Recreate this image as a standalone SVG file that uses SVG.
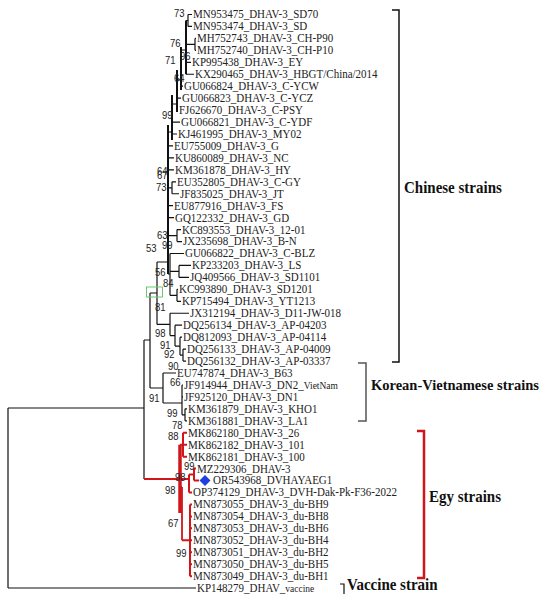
<svg xmlns="http://www.w3.org/2000/svg" width="540" height="594" viewBox="0 0 540 594">
<style>
.lb{font:11px "Liberation Serif","Times New Roman",serif;fill:#222;transform-box:fill-box;transform-origin:center;transform:scaleY(1.06)}
.sm{font-size:9.5px}
.bs{font:9.5px "Liberation Sans",Arial,sans-serif;fill:#222;transform-box:fill-box;transform-origin:center;transform:scaleY(1.15)}
.cl{font:bold 15px "Liberation Serif","Times New Roman",serif;fill:#111;transform-box:fill-box;transform-origin:center;transform:scaleY(1.06)}
.k{fill:none;stroke:#111;stroke-width:1.2}
.kt{fill:none;stroke:#111;stroke-width:2}
.r{fill:none;stroke:#d0161b;stroke-width:2}
.rt{fill:none;stroke:#d0161b;stroke-width:3.5}
</style>
<rect width="540" height="594" fill="#fff"/>
<g id="connectors">
<path class="k" d="M8 408V588M8 408H144M8 588H196M144 340V479M144 340H150M150 293V388M150 293H157M150 388H163
M163 373V403M163 373H176M163 403H182M182 385V414.8M182 385H183M182 396.9H183M182 414.8H185M185 408.85V420.8M185 408.85H187M185 420.8H187
M157 262V324.4M157 262H168M157 324.4H170M170 313.25V335.6M170 313.25H189M170 335.6H175M175 325.2V346.1M175 325.2H182M175 346.1H180
M180 337.15V355.1M180 337.15H182M180 355.1H183M183 349.1V361.05M183 349.1H186M183 361.05H186
M168 274H170M170 253.5V295.3M170 253.5H184M170 271.4H179M170 295.3H177M179 265.45V277.4M179 265.45H191M179 277.4H189
M177 289.35V301.3M177 289.35H178M177 301.3H181
M168 235.6H177M177 229.6V241.55M177 229.6H181M177 241.55H182M168 217.65H174M168 205.7H173
M168 187.8H172M172 181.8V193.75M172 181.8H176M172 193.75H179M168 169.85H174M168 157.9H174M168 145.95H173
M168 132H172M172 134H177M172 122.05H180M172 104H177M177 110.1H178M177 98.15H181M177 80H181M181 86.2H183M181 50H186
M186 74.25H194M186 62.3H191M186 44.4H195M195 38.4V50.35M195 38.4H196M195 50.35H196M186 20.5H188M188 14.5V26.45M188 14.5H192M188 26.45H192"/>
<path class="kt" d="M168 125V274M172 95V140M177 70V112M181 47V90M186 20.5V74.25"/>
<path class="r" d="M144 479H189M180 444.7H183M183 432.75V456.65M183 432.75H187M183 444.7H187M183 456.65H187
M189 474.6V492.5M189 474.6H194M189 492.5H192M194 468.6V480.55M194 468.6H196M194 480.55H199
M180 487H182M182 540.3H190M190 504.45V576.15M190 504.45H192M190 516.4H192M190 528.35H192M190 540.3H192M190 552.25H192M190 564.2H192M190 576.15H192"/>
<path class="rt" d="M180 444.7V513"/>
<path class="r" d="M182 487V540.3" style="stroke-width:1.8"/>
<rect x="146.5" y="287" width="16" height="10" fill="none" stroke="#6cc96c" stroke-width="1"/>
</g>
<g id="leaves">
<g id="n1"><text class="lb" x="193" y="18.2">MN953475_DHAV-3_SD70</text></g>
<g id="n2"><text class="lb" x="193" y="30.15">MN953474_DHAV-3_SD</text></g>
<g id="n3"><text class="lb" x="197" y="42.1">MH752743_DHAV-3_CH-P90</text></g>
<g id="n4"><text class="lb" x="197" y="54.05">MH752740_DHAV-3_CH-P10</text></g>
<g id="n5"><text class="lb" x="192" y="66">KP995438_DHAV-3_EY</text></g>
<g id="n6"><text class="lb" x="195" y="77.95">KX290465_DHAV-3_HBGT/China/2014</text></g>
<g id="n7"><text class="lb" x="184" y="89.9">GU066824_DHAV-3_C-YCW</text></g>
<g id="n8"><text class="lb" x="182" y="101.85">GU066823_DHAV-3_C-YCZ</text></g>
<g id="n9"><text class="lb" x="179" y="113.8">FJ626670_DHAV-3_C-PSY</text></g>
<g id="n10"><text class="lb" x="181" y="125.75">GU066821_DHAV-3_C-YDF</text></g>
<g id="n11"><text class="lb" x="178" y="137.7">KJ461995_DHAV-3_MY02</text></g>
<g id="n12"><text class="lb" x="174" y="149.65">EU755009_DHAV-3_G</text></g>
<g id="n13"><text class="lb" x="175" y="161.6">KU860089_DHAV-3_NC</text></g>
<g id="n14"><text class="lb" x="175" y="173.55">KM361878_DHAV-3_HY</text></g>
<g id="n15"><text class="lb" x="177" y="185.5">EU352805_DHAV-3_C-GY</text></g>
<g id="n16"><text class="lb" x="180" y="197.45">JF835025_DHAV-3_JT</text></g>
<g id="n17"><text class="lb" x="174" y="209.4">EU877916_DHAV-3_FS</text></g>
<g id="n18"><text class="lb" x="175" y="221.35">GQ122332_DHAV-3_GD</text></g>
<g id="n19"><text class="lb" x="182" y="233.3">KC893553_DHAV-3_12-01</text></g>
<g id="n20"><text class="lb" x="183" y="245.25">JX235698_DHAV-3_B-N</text></g>
<g id="n21"><text class="lb" x="185" y="257.2">GU066822_DHAV-3_C-BLZ</text></g>
<g id="n22"><text class="lb" x="192" y="269.15">KP233203_DHAV-3_LS</text></g>
<g id="n23"><text class="lb" x="190" y="281.1">JQ409566_DHAV-3_SD1101</text></g>
<g id="n24"><text class="lb" x="179" y="293.05">KC993890_DHAV-3_SD1201</text></g>
<g id="n25"><text class="lb" x="182" y="305">KP715494_DHAV-3_YT1213</text></g>
<g id="n26"><text class="lb" x="190" y="316.95">JX312194_DHAV-3_D11-JW-018</text></g>
<g id="n27"><text class="lb" x="183" y="328.9">DQ256134_DHAV-3_AP-04203</text></g>
<g id="n28"><text class="lb" x="183" y="340.85">DQ812093_DHAV-3_AP-04114</text></g>
<g id="n29"><text class="lb" x="187" y="352.8">DQ256133_DHAV-3_AP-04009</text></g>
<g id="n30"><text class="lb" x="187" y="364.75">DQ256132_DHAV-3_AP-03337</text></g>
<g id="n31"><text class="lb" x="177" y="376.7">EU747874_DHAV-3_B63</text></g>
<g id="n32"><text class="lb" x="184" y="388.65">JF914944_DHAV-3_DN2_<tspan class="sm">VietNam</tspan></text></g>
<g id="n33"><text class="lb" x="184" y="400.6">JF925120_DHAV-3_DN1</text></g>
<g id="n34"><text class="lb" x="188" y="412.55">KM361879_DHAV-3_KHO1</text></g>
<g id="n35"><text class="lb" x="188" y="424.5">KM361881_DHAV-3_LA1</text></g>
<g id="n36"><text class="lb" x="188" y="436.45">MK862180_DHAV-3_26</text></g>
<g id="n37"><text class="lb" x="188" y="448.4">MK862182_DHAV-3_101</text></g>
<g id="n38"><text class="lb" x="188" y="460.35">MK862181_DHAV-3_100</text></g>
<g id="n39"><text class="lb" x="197" y="472.3">MZ229306_DHAV-3</text></g>
<g id="n40"><polygon points="205,475 210.5,480.5 205,486 199.5,480.5" fill="#1f3fe0"/><text class="lb" x="213" y="484.25">OR543968_DVHAYAEG1</text></g>
<g id="n41"><text class="lb" x="193" y="496.2">OP374129_DHAV-3_DVH-Dak-Pk-F36-2022</text></g>
<g id="n42"><text class="lb" x="193" y="508.15">MN873055_DHAV-3_du-BH9</text></g>
<g id="n43"><text class="lb" x="193" y="520.1">MN873054_DHAV-3_du-BH8</text></g>
<g id="n44"><text class="lb" x="193" y="532.05">MN873053_DHAV-3_du-BH6</text></g>
<g id="n45"><text class="lb" x="193" y="544">MN873052_DHAV-3_du-BH4</text></g>
<g id="n46"><text class="lb" x="193" y="555.95">MN873051_DHAV-3_du-BH2</text></g>
<g id="n47"><text class="lb" x="193" y="567.9">MN873050_DHAV-3_du-BH5</text></g>
<g id="n48"><text class="lb" x="193" y="579.85">MN873049_DHAV-3_du-BH1</text></g>
<g id="n49"><text class="lb" x="197" y="591.5">KP148279_DHAV_<tspan class="sm">vaccine</tspan></text></g>
</g>
<g id="bootstrap">
<text class="bs" x="174" y="16.6">73</text>
<text class="bs" x="170" y="46.6">76</text>
<text class="bs" x="165" y="63.6">71</text>
<text class="bs" x="180" y="59.6">96</text>
<text class="bs" x="174" y="81.6">64</text>
<text class="bs" x="162" y="118.6">99</text>
<text class="bs" x="157" y="174.6">64</text>
<text class="bs" x="157" y="178.6">67</text>
<text class="bs" x="156" y="190.6">73</text>
<text class="bs" x="157" y="238.6">63</text>
<text class="bs" x="146" y="251.6">53</text>
<text class="bs" x="162" y="248.6">99</text>
<text class="bs" x="155" y="275.6">56</text>
<text class="bs" x="163" y="286.6">84</text>
<text class="bs" x="155" y="310.6">81</text>
<text class="bs" x="155" y="336.6">98</text>
<text class="bs" x="160" y="348.6">91</text>
<text class="bs" x="164" y="358">92</text>
<text class="bs" x="168" y="369.5">90</text>
<text class="bs" x="170" y="385.6">66</text>
<text class="bs" x="149" y="401.6">91</text>
<text class="bs" x="167" y="416.6">99</text>
<text class="bs" x="172" y="428.6">78</text>
<text class="bs" x="168" y="439.6">88</text>
<text class="bs" x="184" y="470">99</text>
<text class="bs" x="175" y="480.5">98</text>
<text class="bs" x="165" y="493.6">98</text>
<text class="bs" x="168" y="526.6">67</text>
<text class="bs" x="176" y="556.6">99</text>
</g>
<g id="group-chinese">
<path d="M392 10H399V362H392" fill="none" stroke="#111" stroke-width="1.5"/>
<text class="cl" x="404" y="193">Chinese strains</text>
</g>
<g id="group-korean">
<path d="M358 363H366V421H358" fill="none" stroke="#555" stroke-width="1.5"/>
<text class="cl" x="371" y="390" style="font-size:14.5px">Korean-Vietnamese strains</text>
</g>
<g id="group-egy">
<path d="M417 431H424V578H417" fill="none" stroke="#d0161b" stroke-width="2.5"/>
<text class="cl" x="429" y="502">Egy strains</text>
</g>
<g id="group-vaccine">
<path d="M340 584H344V594" fill="none" stroke="#111" stroke-width="1.2"/>
<text class="cl" x="347" y="590">Vaccine strain</text>
</g>
</svg>
